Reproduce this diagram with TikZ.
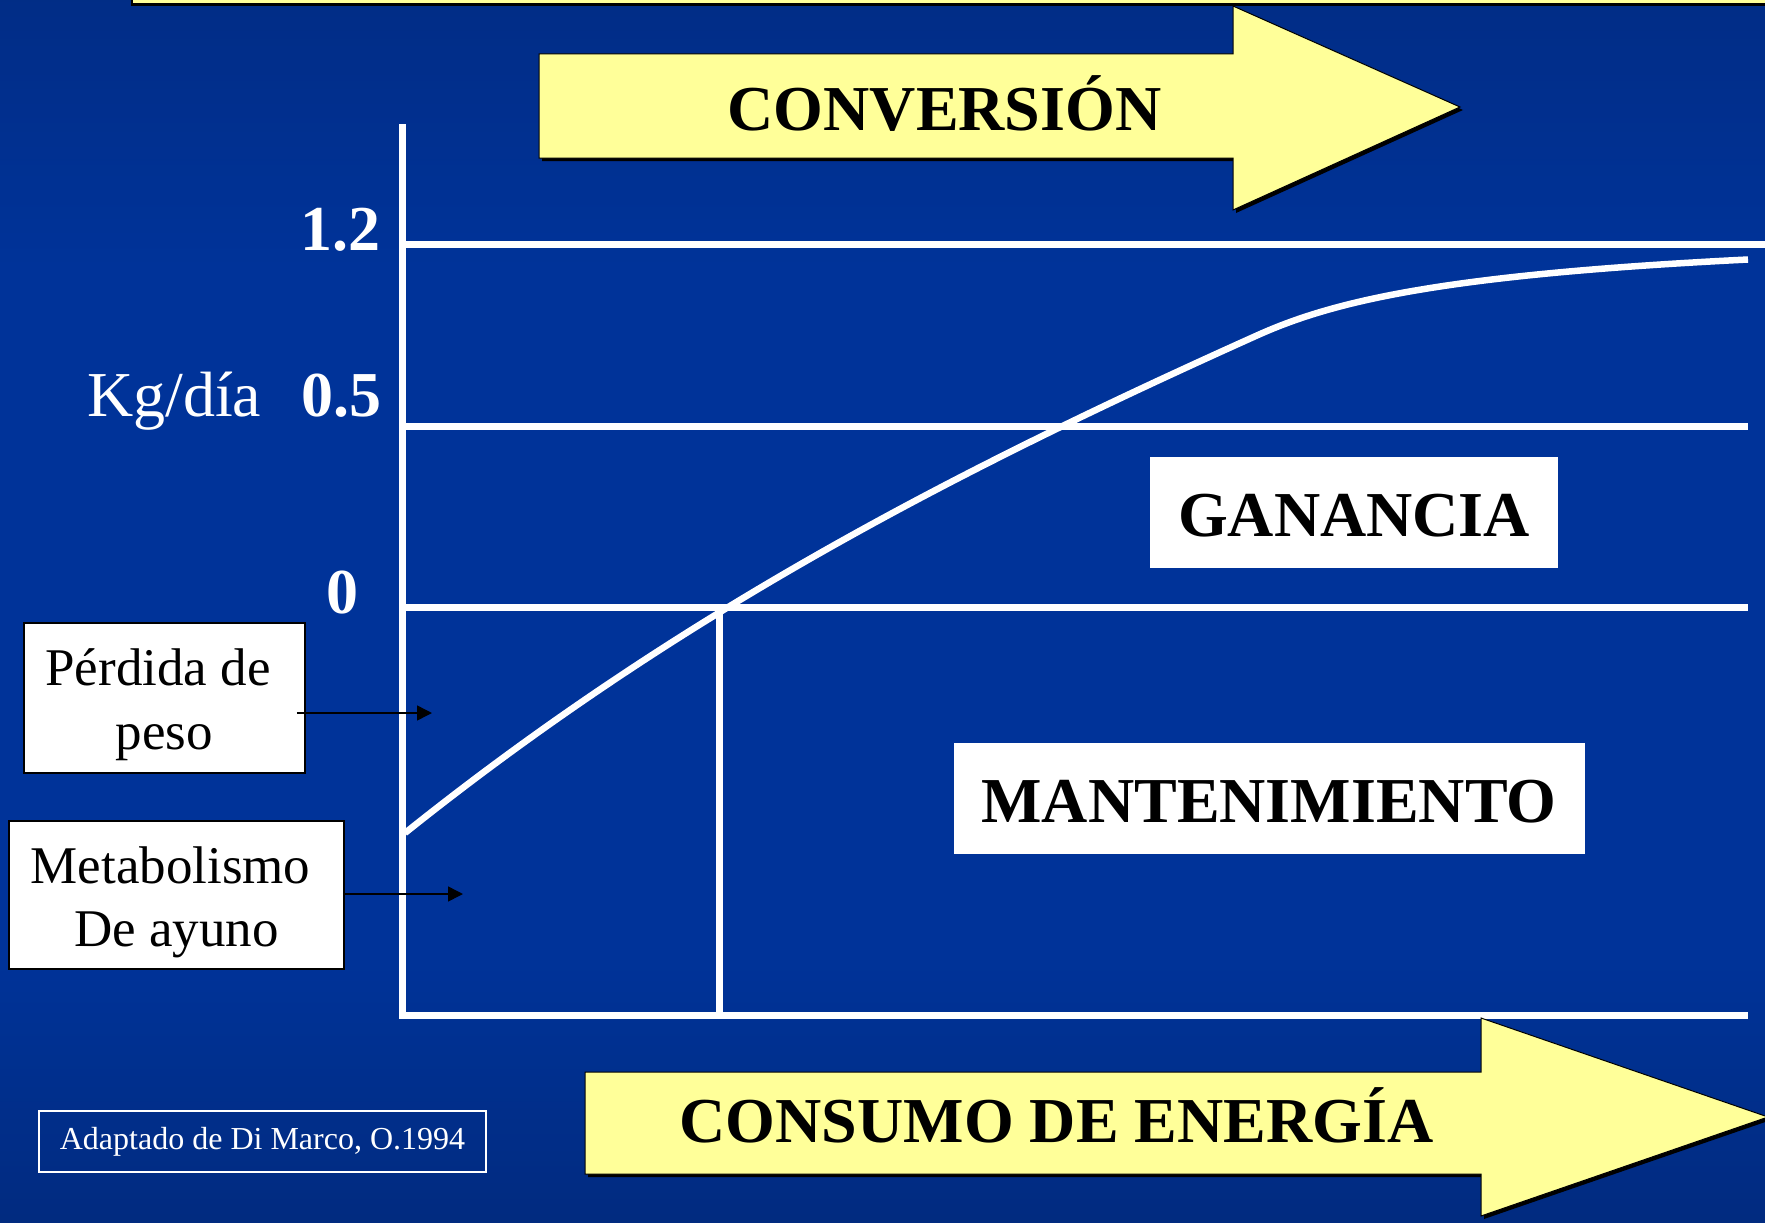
\documentclass[tikz,border=0pt]{standalone}
\usepackage{fontspec}
\setmainfont{Liberation Serif}
\usetikzlibrary{arrows.meta}
\definecolor{bgtop}{RGB}{4,30,92}
\definecolor{bgmid}{RGB}{0,51,153}
\definecolor{bgbot}{RGB}{3,24,70}
\definecolor{arrowyellow}{RGB}{255,255,153}
\pgfdeclareverticalshading{bgshade}{100bp}{color(0bp)=(bgbot); color(36bp)=(bgmid); color(64bp)=(bgmid); color(100bp)=(bgtop)}
\tikzset{
  whiteline/.style={draw=white, line width=7pt},
  bigbold/.style={font=\fontsize{64}{70}\selectfont\bfseries},
  numlab/.style={text=white, inner sep=0pt, font=\fontsize{64}{70}\selectfont\bfseries},
  whitebox/.style={fill=white, inner sep=0pt, text=black, text height=48pt, text depth=0pt, font=\fontsize{64}{70}\selectfont\bfseries},
  labbox/.style={draw=black, line width=1.5pt, fill=white, inner sep=0pt, text=black, font=\fontsize{53}{63.5}\selectfont},
  ptr/.style={draw=black, line width=1.5pt, -{Triangle[length=15pt,width=15pt]}},
  yarrow/.style={fill=arrowyellow, draw=black, line width=1pt},
  yshadow/.style={fill=black}
}
\begin{document}
\begin{tikzpicture}[x=1pt,y=-1pt]
\useasboundingbox (0,0) rectangle (1765,1223);
\clip (0,0) rectangle (1765,1223);
\shade[shading=bgshade] (0,0) rectangle (1765,1223);

% top strip
\fill[black] (131,-20) rectangle (1775,6);
\fill[arrowyellow] (133,-20) rectangle (1775,3.5);

% CONVERSION arrow
\fill[yshadow] (542,57) -- (1236,57) -- (1236,9) -- (1463,110) -- (1236,213) -- (1236,161) -- (542,161) -- cycle;
\path[yarrow] (539,54) -- (1233,54) -- (1233,6) -- (1460,107) -- (1233,210) -- (1233,158) -- (539,158) -- cycle;
\node[bigbold, anchor=base, inner sep=0pt] (conv) at (944.5,130) {CONVERSIÓN};

% axes and grid lines
\draw[whiteline] (402,124) -- (402,1015) -- (1748,1015);
\draw[whiteline] (402,244) -- (1770,244);
\draw[whiteline] (402,426) -- (1748,426);
\draw[whiteline] (402,607) -- (1748,607);
\draw[whiteline] (719,607) -- (719,1015);

% curve
\draw[whiteline, line width=6.5pt] (405,833) .. controls (688,606.6) and (970,464.4) .. (1258,335)
  .. controls (1336,300) and (1448,274.5) .. (1748,259.5);

% axis labels
\node[numlab, anchor=base east] (l12) at (381,250) {1.2};
\node[numlab, anchor=base east] (l05) at (382,416) {0.5};
\node[text=white, inner sep=0pt, anchor=base west, font=\fontsize{64}{70}\selectfont] (kg) at (87,416) {Kg/día};
\node[numlab, anchor=base] (l0) at (342.5,613) {0};

% region labels
\node[whitebox, minimum width=408pt, minimum height=111pt] (gan) at (1354,512) {GANANCIA};
\node[whitebox, minimum width=631pt, minimum height=111pt] (man) at (1269,798.5) {MANTENIMIENTO};

% side boxes
\node[labbox, minimum width=281pt, minimum height=150pt] (pb) at (164.5,698)
  {\begin{tabular}{@{}c@{}}\rule{0pt}{58pt}Pérdida de\kern13pt\\peso\end{tabular}};
\node[labbox, minimum width=335pt, minimum height=148pt] (mb) at (176.5,895)
  {\begin{tabular}{@{}c@{}}\rule{0pt}{59pt}Metabolismo\kern12pt\\De ayuno\end{tabular}};
\coordinate (t1) at (432,713);
\coordinate (t2) at (463,894);
\draw[ptr] ([xshift=-9pt,yshift=-15pt]pb.east) -- (t1);
\draw[ptr] ([xshift=-2pt,yshift=1pt]mb.east) -- (t2);

% citation
\node[draw=white, line width=1.5pt, minimum width=447pt, minimum height=61pt, inner sep=0pt, text=white, font=\fontsize{32}{36}\selectfont] (cite) at (262.5,1141.5) {Adaptado de Di Marco, O.1994};

% CONSUMO arrow
\fill[yshadow] (588,1075) -- (1484,1075) -- (1484,1021) -- (1771,1120) -- (1484,1219) -- (1484,1177) -- (588,1177) -- cycle;
\path[yarrow] (585,1072) -- (1481,1072) -- (1481,1018) -- (1768,1117) -- (1481,1216) -- (1481,1174) -- (585,1174) -- cycle;
\node[bigbold, anchor=base, inner sep=0pt] (cons) at (1056.5,1142) {CONSUMO DE ENERGÍA};
\end{tikzpicture}
\end{document}
